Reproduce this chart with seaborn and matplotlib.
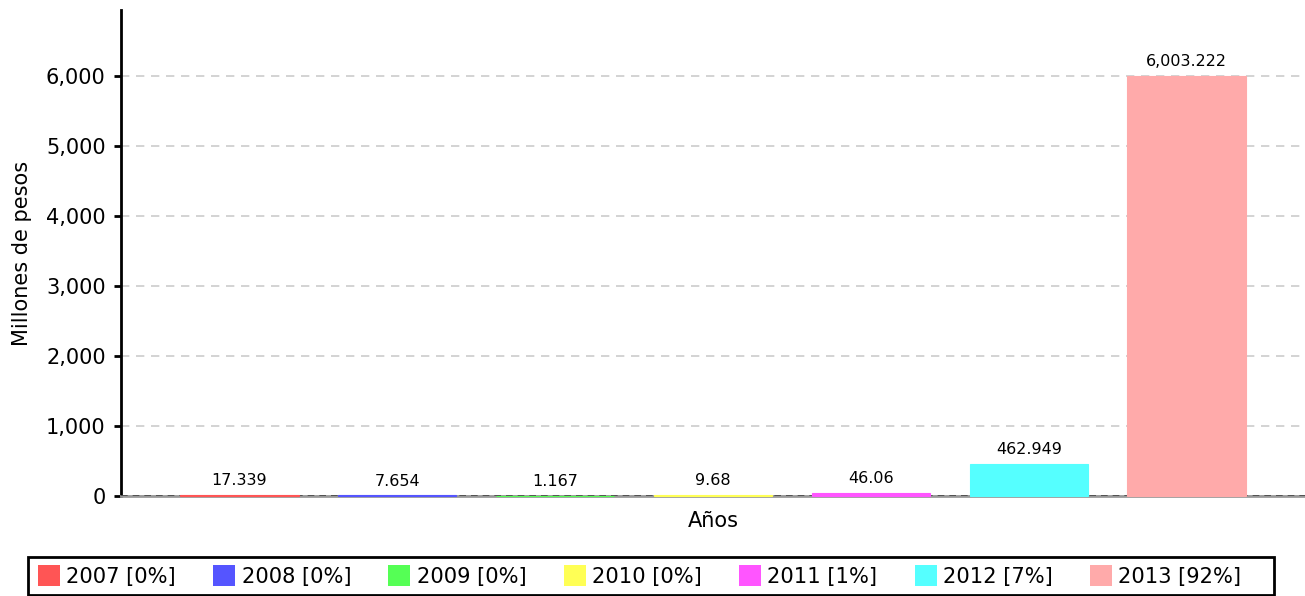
import matplotlib
matplotlib.use("Agg")
import matplotlib.pyplot as plt
import matplotlib.ticker as mticker
from matplotlib.patches import Patch, Rectangle
import seaborn as sns
import pandas as pd

years = ["2007", "2008", "2009", "2010", "2011", "2012", "2013"]
values = [17.339, 7.654, 1.167, 9.68, 46.06, 462.949, 6003.222]
percent_labels = ["0%", "0%", "0%", "0%", "1%", "7%", "92%"]
colors = ["#FF5555", "#5555FF", "#55FF55", "#FFFF55", "#FF55FF", "#55FFFF", "#FFAAAA"]
yticks = [0, 1000, 2000, 3000, 4000, 5000, 6000]

sns.set_theme(style="white")
plt.rcParams["font.family"] = ["DejaVu Sans"]
plt.rcParams["text.color"] = "black"
plt.rcParams["axes.labelcolor"] = "black"
plt.rcParams["ytick.color"] = "black"

df = pd.DataFrame({"year": years, "value": values})

W, H = 1305, 596
fig = plt.figure(figsize=(W / 100, H / 100), dpi=100)
ax = fig.add_axes([121 / W, 100 / H, 1 - 121 / W, 486 / H])

sns.barplot(data=df, x="year", y="value", hue="year", palette=colors,
            width=0.75, legend=False, ax=ax, saturation=1, linewidth=0)

ax.set_xlim(-0.75, 6.75)
ax.set_ylim(0, 6943)
ax.set_yticks(yticks)
ax.yaxis.set_major_formatter(mticker.FuncFormatter(lambda v, p: f"{int(v):,}"))
ax.set_xticks([])

ax.grid(axis="y", color="#cccccc", linestyle=(0, (5, 4)), linewidth=1.2)
ax.set_axisbelow(True)

for s in ["top", "right"]:
    ax.spines[s].set_visible(False)
ax.spines["left"].set_color("black")
ax.spines["left"].set_linewidth(2)
ax.spines["bottom"].set_color("#999999")
ax.spines["bottom"].set_linewidth(2)
ax.axhline(0, color="#444444", linestyle=(0, (4, 3)), linewidth=1.2, zorder=3)

# bars drawn above the baseline; an edge of the same colour keeps tiny bars visible
for p in ax.patches:
    p.set_zorder(4)
    p.set_clip_on(False)
    p.set_edgecolor(p.get_facecolor())
    p.set_linewidth(0.8)

ax.tick_params(axis="y", direction="out", length=5, width=2, color="black",
               labelcolor="black", labelsize=15, pad=6, left=True)

for cont, v in zip(ax.containers, values):
    ax.bar_label(cont, labels=[f"{v:,}"], fontsize=11.5, padding=5, color="black")

ax.set_xlabel("Años", fontsize=15, labelpad=11, color="black")
ax.set_ylabel("Millones de pesos", fontsize=15, labelpad=10, color="black")

# legend box (bottom edge runs off the figure like the reference)
box = Rectangle((28 / W, 1 / H), (1274 - 28) / W, (596 - 557 - 1) / H,
                transform=fig.transFigure, facecolor="white", edgecolor="black",
                linewidth=2, zorder=1)
fig.patches.append(box)

handles = [Patch(facecolor=c, edgecolor="none") for c in colors]
labels = [f"{y} [{p}]" for y, p in zip(years, percent_labels)]
leg = fig.legend(handles, labels, loc="upper left", bbox_to_anchor=(38 / W, 1 - 565 / H),
                 bbox_transform=fig.transFigure, ncol=7, fontsize=15.1, frameon=False,
                 handlelength=1.05, handleheight=1.15, handletextpad=0.3,
                 columnspacing=1.78, borderpad=0.0, borderaxespad=0)
for t in leg.get_texts():
    t.set_color("black")

fig.savefig("out.png", dpi=100)
